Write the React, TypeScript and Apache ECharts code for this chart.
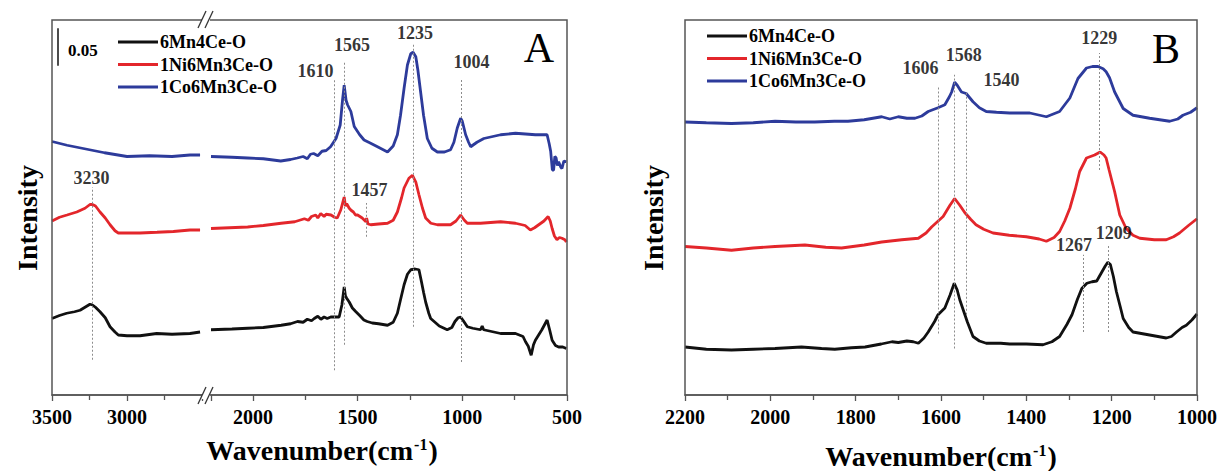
import React, { useEffect, useRef } from "react";
import * as echarts from "echarts";

const FONT = "'Liberation Serif', 'Times New Roman', Times, serif";
const NAMES = ["6Mn4Ce-O", "1Ni6Mn3Ce-O", "1Co6Mn3Ce-O"];
const COLORS = ["#111111", "#e3262b", "#2d3b9b"];

// Panel A spectra: [wavenumber cm-1, intensity]
const aBlack: [number, number][] = [
  [3500,0.102],[3450,0.106],[3402,0.109],[3350,0.111],[3313,0.113],[3280,0.117],[3247,0.121],[3230,0.12],[3210,0.117],[3180,0.111],[3145,0.103],[3113,0.091],[3080,0.084],[3058,0.08],[3000,0.079],[2913,0.079],[2802,0.082],[2700,0.081],[2580,0.082],[2513,0.084],
  [2200,0.087],[2100,0.088],[2025,0.089],[1950,0.09],[1865,0.093],[1820,0.095],[1787,0.098],[1760,0.097],[1740,0.101],[1720,0.099],[1707,0.102],[1690,0.105],[1675,0.101],[1660,0.104],[1645,0.102],[1628,0.104],[1610,0.104],[1588,0.104],[1575,0.12],[1564,0.144],[1558,0.132],[1552,0.129],[1540,0.124],[1525,0.116],[1508,0.111],[1490,0.106],[1470,0.1],[1454,0.098],[1430,0.096],[1400,0.095],[1357,0.093],[1330,0.097],[1310,0.109],[1295,0.127],[1278,0.147],[1262,0.161],[1246,0.167],[1225,0.168],[1207,0.167],[1195,0.151],[1185,0.137],[1175,0.124],[1160,0.109],[1151,0.102],[1110,0.092],[1072,0.087],[1050,0.09],[1035,0.098],[1020,0.103],[1008,0.104],[995,0.099],[976,0.091],[950,0.089],[913,0.087],[905,0.092],[898,0.087],[817,0.082],[746,0.082],[710,0.078],[698,0.071],[685,0.065],[671,0.053],[660,0.067],[651,0.073],[620,0.087],[595,0.1],[583,0.087],[571,0.073],[555,0.066],[540,0.064],[520,0.064],[503,0.062],
];
const aRed: [number, number][] = [
  [3500,0.232],[3450,0.237],[3400,0.24],[3335,0.244],[3280,0.249],[3247,0.254],[3230,0.254],[3210,0.252],[3180,0.244],[3145,0.236],[3113,0.227],[3080,0.219],[3058,0.216],[2913,0.216],[2800,0.217],[2691,0.218],[2580,0.22],[2513,0.22],
  [2200,0.222],[2025,0.224],[1950,0.226],[1865,0.229],[1800,0.231],[1754,0.235],[1735,0.233],[1720,0.238],[1700,0.24],[1690,0.236],[1676,0.242],[1660,0.238],[1650,0.241],[1627,0.24],[1610,0.237],[1597,0.236],[1580,0.247],[1564,0.264],[1558,0.252],[1552,0.255],[1540,0.249],[1530,0.246],[1520,0.244],[1510,0.24],[1500,0.24],[1478,0.236],[1460,0.231],[1457,0.236],[1450,0.228],[1437,0.227],[1400,0.228],[1357,0.229],[1330,0.233],[1310,0.244],[1290,0.263],[1278,0.276],[1255,0.289],[1238,0.293],[1222,0.284],[1207,0.267],[1190,0.249],[1175,0.236],[1150,0.229],[1119,0.227],[1056,0.227],[1030,0.232],[1008,0.24],[990,0.233],[976,0.229],[913,0.229],[817,0.231],[746,0.229],[700,0.226],[675,0.22],[655,0.223],[635,0.227],[610,0.232],[590,0.238],[580,0.232],[571,0.222],[560,0.212],[548,0.207],[536,0.21],[524,0.209],[510,0.207],[503,0.204],
];
const aBlue: [number, number][] = [
  [3500,0.338],[3400,0.333],[3300,0.329],[3250,0.327],[3150,0.323],[3000,0.318],[2850,0.319],[2700,0.318],[2580,0.32],[2513,0.32],
  [2200,0.318],[2100,0.317],[2025,0.316],[1950,0.315],[1867,0.312],[1820,0.314],[1788,0.316],[1760,0.318],[1740,0.315],[1725,0.321],[1710,0.322],[1690,0.319],[1670,0.325],[1650,0.326],[1629,0.331],[1603,0.342],[1583,0.36],[1572,0.393],[1564,0.413],[1555,0.393],[1548,0.387],[1532,0.378],[1516,0.358],[1490,0.347],[1469,0.34],[1440,0.336],[1405,0.331],[1357,0.324],[1330,0.332],[1310,0.347],[1295,0.373],[1278,0.409],[1262,0.44],[1246,0.455],[1235,0.457],[1222,0.451],[1212,0.433],[1199,0.404],[1185,0.373],[1167,0.342],[1145,0.329],[1119,0.324],[1085,0.324],[1056,0.327],[1040,0.337],[1024,0.356],[1008,0.369],[1000,0.365],[984,0.347],[970,0.337],[960,0.331],[930,0.337],[897,0.342],[817,0.347],[746,0.349],[651,0.347],[595,0.347],[585,0.335],[578,0.325],[570,0.3],[564,0.3],[558,0.318],[552,0.316],[546,0.306],[540,0.311],[530,0.304],[524,0.302],[515,0.312],[503,0.311],
];

// Panel B spectra
const bBlack: [number, number][] = [
  [2200,0.064],[2150,0.061],[2091,0.06],[2040,0.061],[1989,0.062],[1927,0.064],[1880,0.062],[1849,0.061],[1810,0.063],[1778,0.064],[1740,0.068],[1715,0.071],[1700,0.07],[1680,0.072],[1665,0.071],[1653,0.069],[1640,0.076],[1630,0.084],[1615,0.098],[1607,0.107],[1591,0.116],[1579,0.133],[1569,0.149],[1562,0.14],[1556,0.127],[1544,0.107],[1538,0.097],[1525,0.078],[1510,0.072],[1494,0.069],[1460,0.069],[1439,0.068],[1400,0.068],[1361,0.067],[1340,0.071],[1322,0.078],[1305,0.094],[1293,0.107],[1280,0.128],[1270,0.142],[1258,0.149],[1246,0.151],[1235,0.152],[1223,0.164],[1215,0.172],[1209,0.177],[1203,0.174],[1196,0.158],[1189,0.138],[1180,0.118],[1173,0.102],[1160,0.09],[1150,0.084],[1111,0.08],[1072,0.076],[1060,0.078],[1048,0.084],[1035,0.09],[1025,0.093],[1012,0.1],[1000,0.108],
];
const bRed: [number, number][] = [
  [2200,0.198],[2150,0.196],[2091,0.193],[2040,0.196],[1989,0.198],[1919,0.2],[1870,0.197],[1833,0.196],[1780,0.2],[1739,0.204],[1692,0.207],[1653,0.209],[1635,0.216],[1622,0.224],[1595,0.238],[1579,0.253],[1568,0.262],[1556,0.253],[1544,0.243],[1530,0.234],[1518,0.227],[1500,0.221],[1478,0.216],[1440,0.213],[1400,0.211],[1370,0.208],[1353,0.205],[1335,0.21],[1322,0.218],[1310,0.232],[1298,0.249],[1285,0.275],[1275,0.298],[1259,0.316],[1240,0.32],[1227,0.324],[1218,0.32],[1213,0.316],[1206,0.3],[1193,0.271],[1181,0.24],[1166,0.222],[1150,0.213],[1134,0.209],[1100,0.207],[1072,0.207],[1055,0.211],[1041,0.216],[1020,0.226],[1000,0.235],
];
const bBlue: [number, number][] = [
  [2200,0.364],[2150,0.363],[2091,0.362],[2040,0.363],[1989,0.365],[1940,0.364],[1896,0.364],[1850,0.365],[1818,0.365],[1780,0.367],[1739,0.371],[1720,0.368],[1700,0.371],[1680,0.369],[1661,0.369],[1645,0.372],[1630,0.378],[1607,0.383],[1591,0.387],[1580,0.398],[1575,0.404],[1568,0.417],[1562,0.413],[1552,0.404],[1541,0.402],[1525,0.391],[1510,0.383],[1494,0.378],[1470,0.377],[1439,0.376],[1392,0.376],[1353,0.371],[1322,0.378],[1298,0.396],[1279,0.422],[1259,0.436],[1245,0.438],[1232,0.438],[1220,0.435],[1213,0.431],[1205,0.423],[1193,0.404],[1173,0.382],[1150,0.373],[1111,0.369],[1064,0.365],[1045,0.368],[1033,0.373],[1015,0.377],[1000,0.383],
];

// Peak markers: wavenumber, dotted line top/bottom intensity
const peaksALeft = [3230];
const peaksARight = [1610, 1565, 1457, 1235, 1004];
const peaksB = [1606, 1568, 1540, 1267, 1229, 1209];
const peakTopA: Record<number, number> = { 3230: 0.277, 1610: 0.42, 1565: 0.444, 1457: 0.256, 1235: 0.469, 1004: 0.42 };
const peakBottomA: Record<number, number> = { 3230: 0.047, 1610: 0.033, 1565: 0.067, 1457: 0.211, 1235: 0.091, 1004: 0.044 };
const peakTopB: Record<number, number> = { 1606: 0.411, 1568: 0.427, 1540: 0.404, 1267: 0.187, 1229: 0.456, 1209: 0.2 };
const peakBottomB: Record<number, number> = { 1606: 0.082, 1568: 0.062, 1540: 0.107, 1267: 0.084, 1229: 0.3, 1209: 0.084 };
// label pixel offsets (layout only)
const labelOffset: Record<string, [number, number]> = {
  "A3230": [-1, -9], "A1610": [-19, -9], "A1565": [8, -17], "A1457": [3, -13], "A1235": [2, -10], "A1004": [10, -18],
  "B1606": [-18, -19], "B1568": [9, -20], "B1540": [35, -12], "B1267": [-9, -10], "B1229": [0, -15], "B1209": [6, -12],
};

const scaleBar = { wn: 3460, from: 0.439, size: 0.05 };

const seg = (d: [number, number][], lo: number, hi: number) => d.filter(([w]) => w >= lo && w <= hi);

function annSeries(panel: string, peaks: number[], top: Record<number, number>, bottom: Record<number, number>, xi: number, extraLines: any[] = []) {
  return {
    type: "scatter",
    xAxisIndex: xi,
    yAxisIndex: xi,
    symbolSize: 0.1,
    itemStyle: { color: "rgba(0,0,0,0)" },
    silent: true,
    z: 5,
    label: {
      show: true,
      position: "inside",
      formatter: "{b}",
      color: "#000",
      fontFamily: FONT,
      fontWeight: "bold",
      fontSize: 18,
    },
    data: peaks.map((p) => ({ name: String(p), value: [p, top[p]], label: { offset: labelOffset[panel + p] } })),
    markLine: {
      silent: true,
      symbol: ["none", "none"],
      label: { show: false },
      lineStyle: { type: [2, 2], color: "#8c8c8c", width: 1 },
      data: [
        ...peaks.map((p) => [{ coord: [p, bottom[p]] }, { coord: [p, top[p]] }]),
        ...extraLines,
      ],
    },
  };
}

function xAxisBase(grid: number, min: number, max: number, interval: number, labelEvery: number, hide: number[] = []) {
  return {
    type: "value",
    gridIndex: grid,
    min,
    max,
    interval,
    inverse: true,
    axisLine: { show: true, lineStyle: { color: "#555", width: 1.5 } },
    axisTick: { show: true, inside: false, length: 6, lineStyle: { color: "#555", width: 1.3 } },
    minorTick: { show: true, splitNumber: 2, length: 5, lineStyle: { color: "#555", width: 1.3 } },
    splitLine: { show: false },
    axisLabel: {
      margin: 12,
      color: "#000",
      fontFamily: FONT,
      fontWeight: "bold",
      fontSize: 20,
      formatter: (v: number) => (v % labelEvery === 0 && !hide.includes(v) ? String(v) : ""),
    },
  };
}

const txt = (x: number, y: number, text: string, size: number, weight = "bold", extra: any = {}) => ({
  type: "text",
  x,
  y,
  z: 60,
  silent: true,
  ...extra,
  style: {
    text,
    fill: "#000",
    fontFamily: FONT,
    fontSize: size,
    fontWeight: weight,
    align: "center",
    verticalAlign: "middle",
    textAlign: "center",
    textVerticalAlign: "middle",
    ...(extra.style || {}),
  },
});

const titleRich = {
  sup: { fontSize: 16, fontWeight: "bold", fontFamily: FONT, verticalAlign: "top", padding: [0, 1, 10, 1] },
};

export default function App() {
  const ref = useRef<HTMLDivElement>(null);
  useEffect(() => {
    const chart = echarts.init(ref.current!, null, { renderer: "svg" });
    const samplesA = [aBlack, aRed, aBlue];
    const samplesB = [bBlack, bRed, bBlue];
    const series: any[] = [];
    const lw = 2.8;
    samplesA.forEach((d, i) => {
      series.push({
        type: "line", name: NAMES[i], xAxisIndex: 0, yAxisIndex: 0, data: seg(d, 2500, 3500),
        showSymbol: false, symbol: "none", lineStyle: { color: COLORS[i], width: lw }, itemStyle: { color: COLORS[i] },
      });
    });
    samplesA.forEach((d, i) => {
      series.push({
        type: "line", name: NAMES[i], xAxisIndex: 1, yAxisIndex: 1, data: seg(d, 500, 2200),
        showSymbol: false, symbol: "none", lineStyle: { color: COLORS[i], width: lw }, itemStyle: { color: COLORS[i] },
      });
    });
    samplesB.forEach((d, i) => {
      series.push({
        type: "line", name: NAMES[i], xAxisIndex: 2, yAxisIndex: 2, data: d,
        showSymbol: false, symbol: "none", lineStyle: { color: COLORS[i], width: lw }, itemStyle: { color: COLORS[i] },
      });
    });
    series.push(
      annSeries("A", peaksALeft, peakTopA, peakBottomA, 0, [
        [
          { coord: [scaleBar.wn, scaleBar.from], lineStyle: { type: "solid", color: "#111", width: 1.5 } },
          { coord: [scaleBar.wn, scaleBar.from + scaleBar.size] },
        ],
      ])
    );
    series.push(annSeries("A", peaksARight, peakTopA, peakBottomA, 1));
    series.push(annSeries("B", peaksB, peakTopB, peakBottomB, 2));

    const legendBase = {
      orient: "vertical",
      icon: "rect",
      itemWidth: 40,
      itemHeight: 3,
      itemGap: 4.5,
      selectedMode: false,
      data: NAMES,
      textStyle: { color: "#000", fontFamily: FONT, fontWeight: "bold", fontSize: 18, padding: [0, 0, 0, -3] },
    };

    const option: any = {
      animation: false,
      backgroundColor: "#ffffff",
      grid: [
        { left: 52, top: 20, width: 150, height: 375 },
        { left: 211, top: 20, width: 356, height: 375 },
        { left: 685, top: 20, width: 512, height: 375 },
      ],
      xAxis: [
        xAxisBase(0, 2500, 3500, 500, 500, [2500]),
        xAxisBase(1, 500, 2200, 500, 500),
        xAxisBase(2, 1000, 2200, 200, 200),
      ],
      yAxis: [0, 1, 2].map((g) => ({ type: "value", gridIndex: g, min: 0, max: 0.5, show: false })),
      legend: [
        { ...legendBase, left: 113, top: 28 },
        { ...legendBase, left: 702, top: 22 },
      ],
      series,
      graphic: [
        { type: "rect", z: 50, silent: true, shape: { x: 52, y: 20, width: 515, height: 375 }, style: { fill: "none", stroke: "#555", lineWidth: 1.5 } },
        { type: "rect", z: 50, silent: true, shape: { x: 685, y: 20, width: 512, height: 375 }, style: { fill: "none", stroke: "#555", lineWidth: 1.5 } },
        // axis break marks
        { type: "rect", z: 55, silent: true, shape: { x: 202, y: 16, width: 8, height: 8 }, style: { fill: "#fff" } },
        { type: "rect", z: 55, silent: true, shape: { x: 202, y: 391, width: 8, height: 8 }, style: { fill: "#fff" } },
        { type: "line", z: 56, silent: true, shape: { x1: 198, y1: 28, x2: 206, y2: 11 }, style: { stroke: "#333", lineWidth: 1.3 } },
        { type: "line", z: 56, silent: true, shape: { x1: 205, y1: 28, x2: 213, y2: 11 }, style: { stroke: "#333", lineWidth: 1.3 } },
        { type: "line", z: 56, silent: true, shape: { x1: 198, y1: 404, x2: 206, y2: 387 }, style: { stroke: "#333", lineWidth: 1.3 } },
        { type: "line", z: 56, silent: true, shape: { x1: 205, y1: 404, x2: 213, y2: 387 }, style: { stroke: "#333", lineWidth: 1.3 } },
        txt(68, 50, "0.05", 17, "bold", { style: { align: "left", textAlign: "left" } }),
        txt(539, 48, "A", 42, "normal"),
        txt(1166, 49, "B", 42, "normal"),
        txt(322, 450, "Wavenumber(cm{sup|-1})", 28, "bold", { style: { rich: titleRich } }),
        txt(941, 456, "Wavenumber(cm{sup|-1})", 28, "bold", { style: { rich: titleRich } }),
        txt(27, 218, "Intensity", 28, "bold", { rotation: Math.PI / 2 }),
        txt(653, 218, "Intensity", 28, "bold", { rotation: Math.PI / 2 }),
      ],
    };
    chart.setOption(option);
    return () => chart.dispose();
  }, []);
  return (
    <div
      ref={ref}
      style={{ position: "fixed", left: 0, top: 0, width: 1222, height: 471, background: "#fff" }}
    />
  );
}
